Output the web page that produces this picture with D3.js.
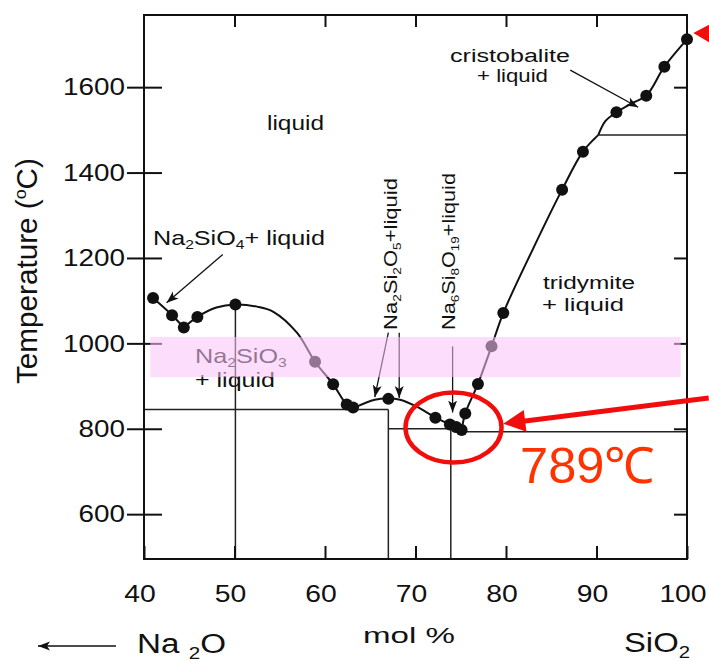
<!DOCTYPE html>
<html>
<head>
<meta charset="utf-8">
<script src="https://cdn.jsdelivr.net/npm/d3@7"></script>
<style>
  body { margin: 0; background: #fff; }
  svg { display: block; font-family: "Liberation Sans", Arial, Helvetica, sans-serif; }
</style>
</head>
<body>
<div id="chart"></div>
<script>
// measured liquidus points: mol % SiO2 vs temperature (°C)
const molSiO2 = [41.0, 43.1, 44.4, 45.9, 50.1, 58.9, 60.9, 62.4, 63.1, 67.0, 72.2, 73.8, 74.5, 75.1,
                 75.5, 76.9, 78.4, 79.7, 86.2, 88.5, 92.2, 95.5, 97.5, 100];
const liquidusT = [1106, 1066, 1037, 1062, 1091, 957, 904, 857, 850, 870, 826, 810, 804, 797,
                   836, 905, 993, 1071, 1360, 1449, 1541, 1580, 1648, 1712];

// liquidus line, split at the eutectic cusps
const liquidusSegments = [
  [[41.0, 1106], [43.1, 1066], [44.4, 1037]],
  [[44.4, 1037], [45.9, 1062], [48.0, 1084], [50.1, 1091], [52.5, 1086], [54.3, 1074], [56.9, 1025],
   [58.9, 957], [60.9, 904], [62.4, 857], [63.2, 849]],
  [[63.2, 849], [65.5, 868], [67.0, 871], [68.3, 868], [70.3, 850], [72.2, 826], [73.8, 810], [75.1, 797]],
  [[75.1, 797], [75.5, 836], [76.9, 905], [78.4, 993], [79.7, 1071], [83.0, 1222], [86.2, 1360],
   [88.5, 1449], [90.2, 1488]],
  [[90.2, 1488], [91.0, 1521], [92.2, 1541], [94.0, 1563], [95.5, 1580], [97.5, 1648], [100, 1712]]
];

// horizontal phase boundaries: from, to, temperature
const tieFrom = [40, 67.0, 74.2, 90.2];
const tieTo = [67.0, 74.2, 100, 100];
const tieT = [845, 800, 793, 1488];

// compound composition lines: x, top temperature
const compX = [50.1, 67.0, 73.9];
const compTop = [1091, 845, 800];

// highlight band
const bandX = [40.7, 99.3];
const bandT = [921, 1015];

// label arrows: [from, to] in data units
const labelArrows = [
  [[48.7, 1208], [42.5, 1095]],
  [[67.0, 1025], [65.5, 874]],
  [[68.2, 1025], [68.2, 872]],
  [[74.1, 993], [74.1, 838]],
  [[87.1, 1640], [94.6, 1553]]
];

// eutectic callout
const eutectic = [74.2, 803];
const calloutFrom = [102.4, 872];
const calloutTip = [79.7, 812];
const topTip = [100.7, 1727];

const xTicks = [40, 50, 60, 70, 80, 90, 100];
const yTicks = [600, 800, 1000, 1200, 1400, 1600];

const W = 709, H = 661;
const margin = { top: 15, right: 22, bottom: 102, left: 144 };
const width = W - margin.left - margin.right;
const height = H - margin.top - margin.bottom;

const svg = d3.select("#chart").append("svg")
    .attr("width", W)
    .attr("height", H);

const g = svg.append("g")
    .attr("transform", `translate(${margin.left},${margin.top})`);
const labels = svg.append("g");
const overlay = svg.append("g")
    .attr("transform", `translate(${margin.left},${margin.top})`);

const x = d3.scaleLinear().domain([40, 100]).range([0, width]);
const y = d3.scaleLinear().domain([495, 1769]).range([height, 0]);

const defs = svg.append("defs");
defs.append("marker")
    .attr("id", "head")
    .attr("viewBox", "0 -5 12 10")
    .attr("refX", 12).attr("refY", 0)
    .attr("markerWidth", 12).attr("markerHeight", 10)
    .attr("markerUnits", "userSpaceOnUse")
    .attr("orient", "auto")
  .append("path")
    .attr("d", "M0,-4.5L12,0L0,4.5L3,0Z")
    .attr("fill", "#111");

// text with sub/superscripts, stretched to a measured width
function label(parent, px, py, parts, size, targetWidth, opts = {}) {
    const t = parent.append("text")
        .attr("font-size", size)
        .attr("fill", opts.fill || "#111");
    let shift = 0;
    parts.forEach(p => {
        const [s, kind] = Array.isArray(p) ? p : [p, null];
        let target = 0, fs = null;
        if (kind === "sub") { target = size * (opts.subDrop || 0.22); fs = size * 0.62; }
        if (kind === "sup") { target = -size * 0.38; fs = size * 0.6; }
        const ts = t.append("tspan").text(s).attr("dy", target - shift);
        if (fs) ts.attr("font-size", fs);
        shift = target;
    });
    const w0 = t.node().getBBox().width;
    const sx = targetWidth ? targetWidth / w0 : 1;
    const rot = opts.rotate ? " rotate(-90)" : "";
    t.attr("transform", `translate(${px},${py})${rot} scale(${sx},1)`);
    return t;
}

// phase boundary lines
g.append("g").selectAll("line")
    .data(tieT)
    .join("line")
    .attr("x1", (d, i) => x(tieFrom[i]))
    .attr("x2", (d, i) => x(tieTo[i]))
    .attr("y1", d => y(d))
    .attr("y2", d => y(d))
    .attr("stroke", "#222")
    .attr("stroke-width", 1.5);

g.append("g").selectAll("line")
    .data(compX)
    .join("line")
    .attr("x1", d => x(d))
    .attr("x2", d => x(d))
    .attr("y1", (d, i) => y(compTop[i]))
    .attr("y2", height)
    .attr("stroke", "#222")
    .attr("stroke-width", 1.5);

// liquidus
const line = d3.line()
    .x(d => x(d[0]))
    .y(d => y(d[1]))
    .curve(d3.curveCatmullRom.alpha(0.5));

g.append("g").selectAll("path")
    .data(liquidusSegments)
    .join("path")
    .attr("d", line)
    .attr("fill", "none")
    .attr("stroke", "#111")
    .attr("stroke-width", 2);

g.append("g").selectAll("circle")
    .data(molSiO2)
    .join("circle")
    .attr("cx", d => x(d))
    .attr("cy", (d, i) => y(liquidusT[i]))
    .attr("r", 6)
    .attr("fill", "#111");

// label arrows
g.append("g").selectAll("line")
    .data(labelArrows)
    .join("line")
    .attr("x1", d => x(d[0][0]))
    .attr("y1", d => y(d[0][1]))
    .attr("x2", d => x(d[1][0]))
    .attr("y2", d => y(d[1][1]))
    .attr("stroke", "#111")
    .attr("stroke-width", 1.3)
    .attr("marker-end", "url(#head)");

// axes
const yAxis = g.append("g")
    .call(d3.axisLeft(y).tickValues(yTicks).tickFormat(d3.format("d"))
        .tickSizeInner(-18).tickSizeOuter(0).tickPadding(19));
yAxis.selectAll(".tick").append("line")
    .attr("x1", -17).attr("x2", 0)
    .attr("stroke", "#111").attr("stroke-width", 1.5);
yAxis.selectAll("text")
    .attr("x", 0)
    .attr("transform", "translate(-19,0) scale(1.16,1)");

const xAxis = g.append("g")
    .attr("transform", `translate(0,${height})`)
    .call(d3.axisBottom(x).tickValues(xTicks).tickFormat(d3.format("d"))
        .tickSizeInner(-13).tickSizeOuter(0).tickPadding(26));
xAxis.selectAll("text")
    .attr("y", 0)
    .attr("transform", "translate(-4.5,26) scale(1.18,1)");

g.append("g")
    .call(d3.axisTop(x).tickValues(xTicks.slice(1, -1)).tickSizeInner(-12).tickSizeOuter(0).tickFormat(""));
g.append("g")
    .attr("transform", `translate(${width},0)`)
    .call(d3.axisRight(y).tickValues(yTicks).tickSizeInner(-13).tickSizeOuter(0).tickFormat(""));

g.selectAll(".domain").remove();
g.selectAll(".tick line").attr("stroke", "#111").attr("stroke-width", 2);
g.selectAll(".tick text").attr("fill", "#111");
g.selectAll("g[font-size]")
    .attr("font-size", 24)
    .attr("font-family", "'Liberation Sans', Arial, Helvetica, sans-serif");

g.append("rect")
    .attr("width", width)
    .attr("height", height)
    .attr("fill", "none")
    .attr("stroke", "#111")
    .attr("stroke-width", 2);

// region labels
label(labels, 267, 130, ["liquid"], 20, 57);
label(labels, 153, 245, ["Na", ["2", "sub"], "SiO", ["4", "sub"], "+ liquid"], 20, 172);
label(labels, 195, 363, ["Na", ["2", "sub"], "SiO", ["3", "sub"]], 20, 92);
label(labels, 195, 387, ["+ liquid"], 20, 80);
label(labels, 450, 62, ["cristobalite"], 19, 120);
label(labels, 477, 82, ["+ liquid"], 19, 71);
label(labels, 543, 289, ["tridymite"], 19, 92);
label(labels, 542, 311, ["+ liquid"], 19, 82);
label(labels, 397, 330, ["Na", ["2", "sub"], "Si", ["2", "sub"], "O", ["5", "sub"], "+liquid"], 19, 152, { rotate: true });
label(labels, 455, 330, ["Na", ["6", "sub"], "Si", ["8", "sub"], "O", ["19", "sub"], "+liquid"], 19, 157, { rotate: true });

// axis titles
label(labels, 37, 384, ["Temperature (", ["o", "sup"], "C)"], 29, 226, { rotate: true });
label(labels, 363, 643, ["mol %"], 22, 92);
label(labels, 137, 653, ["Na ", ["2", "sub"], "O"], 28, 89, { subDrop: 0.2 });
label(labels, 624, 652, ["SiO", ["2", "sub"]], 27, 66);

labels.append("line")
    .attr("x1", 116).attr("x2", 38)
    .attr("y1", 646).attr("y2", 646)
    .attr("stroke", "#111")
    .attr("stroke-width", 1.3)
    .attr("marker-end", "url(#head)");

// highlight band over the diagram
overlay.append("rect")
    .attr("x", x(bandX[0]))
    .attr("width", x(bandX[1]) - x(bandX[0]))
    .attr("y", y(bandT[1]))
    .attr("height", y(bandT[0]) - y(bandT[1]))
    .attr("fill", "rgb(250,196,250)")
    .attr("opacity", 0.56);

// eutectic callout
const red = "#f20d0d";
overlay.append("ellipse")
    .attr("cx", x(eutectic[0]))
    .attr("cy", y(eutectic[1]))
    .attr("rx", 48)
    .attr("ry", 35)
    .attr("fill", "none")
    .attr("stroke", red)
    .attr("stroke-width", 4.5);

const tip = [x(calloutTip[0]), y(calloutTip[1])];
const from = [x(calloutFrom[0]), y(calloutFrom[1])];
const len = Math.hypot(tip[0] - from[0], tip[1] - from[1]);
const u = [(tip[0] - from[0]) / len, (tip[1] - from[1]) / len];
const base = [tip[0] - u[0] * 22, tip[1] - u[1] * 22];
const nrm = [-u[1], u[0]];
overlay.append("line")
    .attr("x1", from[0]).attr("y1", from[1])
    .attr("x2", base[0] + u[0] * 2).attr("y2", base[1] + u[1] * 2)
    .attr("stroke", red)
    .attr("stroke-width", 5);
overlay.append("polygon")
    .attr("points", [tip, [base[0] + nrm[0] * 11, base[1] + nrm[1] * 11], [base[0] - nrm[0] * 11, base[1] - nrm[1] * 11]]
        .map(p => p.join(",")).join(" "))
    .attr("fill", red);

const tt = [x(topTip[0]), y(topTip[1])];
overlay.append("polygon")
    .attr("points", [tt, [tt[0] + 17, tt[1] - 9], [tt[0] + 17, tt[1] + 10]].map(p => p.join(",")).join(" "))
    .attr("fill", red);

label(svg, 520, 483, ["789℃"], 50, 135, { fill: "#ff3300" });
</script>
</body>
</html>
